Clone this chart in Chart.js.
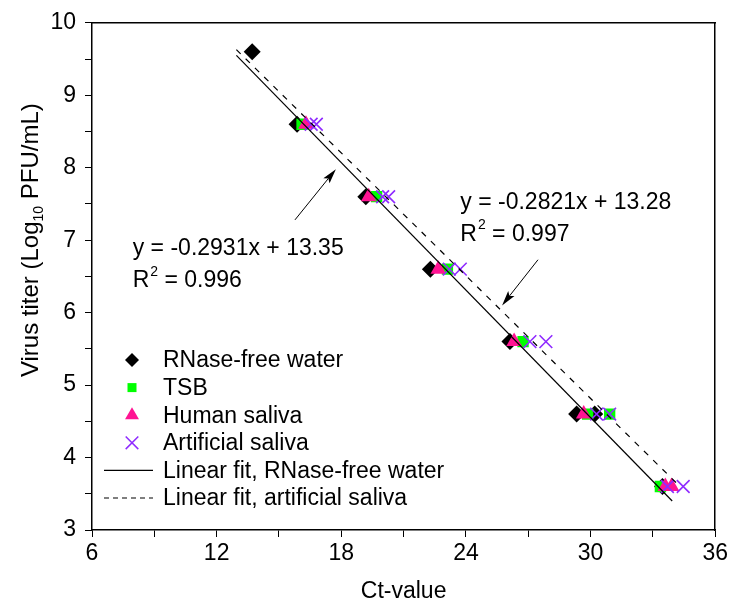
<!DOCTYPE html>
<html>
<head>
<meta charset="utf-8">
<script src="https://cdn.jsdelivr.net/npm/chart.js@4.4.0/dist/chart.umd.min.js"></script>
<style>
  html, body { margin: 0; padding: 0; background: #fff; }
  #wrap { width: 731px; height: 603px; }
</style>
</head>
<body>
<div id="wrap"><canvas id="ctChart" width="731" height="603"></canvas></div>
<script>
// values (Ct-value vs log10 titer)
const waterCt = [13.71, 15.87, 19.18, 22.29, 26.12, 29.33, 30.20, 33.46]
const waterTiter = [9.6, 8.6, 7.6, 6.6, 5.6, 4.6, 4.6, 3.6]
const tsbCt = [16.11, 19.70, 23.11, 26.75, 29.86, 30.92, 33.36]
const tsbTiter = [8.6, 7.6, 6.6, 5.6, 4.6, 4.6, 3.6]
const humanCt = [16.30, 19.32, 22.67, 26.32, 29.67, 33.60, 33.90]
const humanTiter = [8.6, 7.6, 6.6, 5.6, 4.6, 3.6, 3.6]
const artCt = [16.55, 16.80, 19.99, 20.28, 23.20, 23.73, 27.08, 27.85, 30.29, 30.92, 33.70, 34.46]
const artTiter = [8.6, 8.6, 7.6, 7.6, 6.6, 6.6, 5.6, 5.6, 4.6, 4.6, 3.6, 3.6]

// fitted lines, end points
const fitWaterCt = [12.95, 33.93]
const fitWaterTiter = [9.55, 3.40]
const fitArtCt = [12.95, 34.2]
const fitArtTiter = [9.63, 3.63]

const legendLabels = ["RNase-free water", "TSB", "Human saliva", "Artificial saliva",
    "Linear fit, RNase-free water", "Linear fit, artificial saliva"]
const eqWater = ["y = -0.2931x + 13.35", "0.996"]
const eqArt = ["y = -0.2821x + 13.28", "0.997"]

const FONT = "'Liberation Sans', Arial, sans-serif"
const toPts = (xs, ys) => xs.map((x, i) => ({x: x, y: ys[i]}))

const green = "#00ff00"
const pink = "#ff1493"
const purple = "#8f2bff"

const markerPath = (ctx, style, x, y, r) => {
    ctx.beginPath()
    if (style === "diamond") {
        ctx.moveTo(x, y - r); ctx.lineTo(x + r, y); ctx.lineTo(x, y + r); ctx.lineTo(x - r, y)
        ctx.closePath(); ctx.fill()
    } else if (style === "square") {
        ctx.rect(x - r * 0.75, y - r * 0.75, r * 1.5, r * 1.5); ctx.fill()
    } else if (style === "triangle") {
        ctx.moveTo(x, y - r); ctx.lineTo(x + r * 0.87, y + r * 0.5); ctx.lineTo(x - r * 0.87, y + r * 0.5)
        ctx.closePath(); ctx.fill()
    } else if (style === "cross") {
        const d = r * 0.7
        ctx.moveTo(x - d, y - d); ctx.lineTo(x + d, y + d)
        ctx.moveTo(x + d, y - d); ctx.lineTo(x - d, y + d)
        ctx.stroke()
    }
}

const arrow = (ctx, x1, y1, x2, y2) => {
    const ang = Math.atan2(y2 - y1, x2 - x1)
    const len = 15, w = 4
    ctx.beginPath()
    ctx.moveTo(x1, y1)
    ctx.lineTo(x2 - Math.cos(ang) * len * 0.8, y2 - Math.sin(ang) * len * 0.8)
    ctx.stroke()
    ctx.beginPath()
    ctx.moveTo(x2, y2)
    ctx.lineTo(x2 - Math.cos(ang) * len - Math.sin(ang) * w, y2 - Math.sin(ang) * len + Math.cos(ang) * w)
    ctx.lineTo(x2 - Math.cos(ang) * len * 0.8, y2 - Math.sin(ang) * len * 0.8)
    ctx.lineTo(x2 - Math.cos(ang) * len + Math.sin(ang) * w, y2 - Math.sin(ang) * len - Math.cos(ang) * w)
    ctx.closePath()
    ctx.fill()
}

const drawEq = (ctx, xs, ys, lines, left, top) => {
    const px = xs.getPixelForValue(left)
    const py1 = ys.getPixelForValue(top)
    ctx.font = "23px " + FONT
    ctx.textBaseline = "middle"
    ctx.textAlign = "left"
    ctx.fillText(lines[0], px, py1)
    const py2 = py1 + 32
    ctx.fillText("R", px, py2)
    const rw = ctx.measureText("R").width
    ctx.font = "14px " + FONT
    ctx.fillText("2", px + rw + 1, py2 - 9)
    const sw = ctx.measureText("2").width
    ctx.font = "23px " + FONT
    ctx.fillText(" = " + lines[1], px + rw + sw + 1, py2)
}

const extras = {
    id: "extras",
    afterDraw(chart) {
        const ctx = chart.ctx
        const xs = chart.scales.x
        const ys = chart.scales.y
        ctx.save()
        ctx.fillStyle = "#000"
        ctx.strokeStyle = "#000"

        // axis titles
        ctx.font = "23px " + FONT
        ctx.textAlign = "center"
        ctx.textBaseline = "middle"
        ctx.fillText("Ct-value", (chart.chartArea.left + chart.chartArea.right) / 2, 592)

        ctx.save()
        ctx.translate(31, ys.getPixelForValue(7.0))
        ctx.rotate(-Math.PI / 2)
        const p1 = "Virus titer (Log", p2 = "10", p3 = " PFU/mL)"
        ctx.font = "24px " + FONT
        const w1 = ctx.measureText(p1).width, w3 = ctx.measureText(p3).width
        ctx.font = "14px " + FONT
        const w2 = ctx.measureText(p2).width
        let sx = -(w1 + w2 + w3) / 2
        ctx.textAlign = "left"
        ctx.font = "24px " + FONT
        ctx.fillText(p1, sx, 0)
        ctx.font = "14px " + FONT
        ctx.fillText(p2, sx + w1, 8)
        ctx.font = "24px " + FONT
        ctx.fillText(p3, sx + w1 + w2, 0)
        ctx.restore()

        // equations + arrows
        drawEq(ctx, xs, ys, eqWater, 7.96, 6.88)
        drawEq(ctx, xs, ys, eqArt, 23.73, 7.52)
        ctx.lineWidth = 1
        arrow(ctx, xs.getPixelForValue(15.77), ys.getPixelForValue(7.28),
                xs.getPixelForValue(17.74), ys.getPixelForValue(7.98))
        arrow(ctx, xs.getPixelForValue(27.47), ys.getPixelForValue(6.73),
                xs.getPixelForValue(25.74), ys.getPixelForValue(6.10))

        // legend
        const styles = [
            {m: "diamond", c: "#000", r: 7},
            {m: "square", c: green, r: 6},
            {m: "triangle", c: pink, r: 8},
            {m: "cross", c: purple, r: 9},
            {line: []},
            {line: [5, 4]}
        ]
        ctx.font = "23px " + FONT
        ctx.textAlign = "left"
        ctx.textBaseline = "middle"
        styles.forEach((s, i) => {
            const y = 360 + i * 27.6
            if (s.line) {
                ctx.strokeStyle = "#000"
                ctx.lineWidth = 1.2
                ctx.setLineDash(s.line)
                ctx.beginPath(); ctx.moveTo(104, y); ctx.lineTo(153, y); ctx.stroke()
                ctx.setLineDash([])
            } else {
                ctx.fillStyle = s.c
                ctx.strokeStyle = s.c
                ctx.lineWidth = 1.5
                markerPath(ctx, s.m, 132, y, s.r)
            }
            ctx.fillStyle = "#000"
            ctx.fillText(legendLabels[i], 163, y + 1)
        })
        ctx.restore()
    }
}

new Chart("ctChart", {
    type: "scatter",
    data: {
        datasets: [
            {label: legendLabels[4], type: "line", data: toPts(fitWaterCt, fitWaterTiter), borderColor: "#000",
                borderWidth: 1.2, pointRadius: 0, fill: false, order: 0},
            {label: legendLabels[5], type: "line", data: toPts(fitArtCt, fitArtTiter), borderColor: "#000",
                borderWidth: 1.2, borderDash: [6, 7], pointRadius: 0, fill: false, order: 0},
            {label: legendLabels[3], data: toPts(artCt, artTiter), pointStyle: "crossRot", pointRadius: 9,
                borderColor: purple, borderWidth: 1.6, order: 1},
            {label: legendLabels[2], data: toPts(humanCt, humanTiter), pointStyle: "triangle", pointRadius: 9,
                backgroundColor: pink, borderColor: pink, borderWidth: 0, order: 2},
            {label: legendLabels[1], data: toPts(tsbCt, tsbTiter), pointStyle: "rect", pointRadius: 8,
                backgroundColor: green, borderColor: green, borderWidth: 0, order: 3},
            {label: legendLabels[0], data: toPts(waterCt, waterTiter), pointStyle: "rectRot", pointRadius: 8.5,
                backgroundColor: "#000", borderColor: "#000", borderWidth: 0, order: 4}
        ]
    },
    options: {
        responsive: false,
        animation: false,
        devicePixelRatio: 1,
        layout: {padding: {top: 20, right: 13, left: 0, bottom: 0}},
        plugins: {legend: {display: false}, tooltip: {enabled: false}},
        scales: {
            x: {
                type: "linear", min: 6, max: 36,
                afterFit: (s) => { s.height = 73 },
                ticks: {stepSize: 3, autoSkip: false, padding: 3, color: "#000",
                    font: {family: FONT, size: 23},
                    callback: (v) => v % 6 === 0 ? v : ""},
                grid: {drawOnChartArea: false, tickLength: 7, color: "#000", tickColor: "#000"},
                border: {color: "#000", width: 1.5}
            },
            y: {
                type: "linear", min: 3, max: 10,
                afterFit: (s) => { s.width = 92 },
                ticks: {stepSize: 0.5, autoSkip: false, padding: 9, color: "#000",
                    font: {family: FONT, size: 23},
                    callback: (v) => Number.isInteger(v) ? v : ""},
                grid: {drawOnChartArea: false, tickLength: 7, color: "#000", tickColor: "#000"},
                border: {color: "#000", width: 1.5}
            },
            x2: {
                type: "linear", position: "top", min: 6, max: 36,
                afterFit: (s) => { s.height = 0 },
                ticks: {display: false},
                grid: {display: false},
                border: {color: "#000", width: 1.5}
            },
            y2: {
                type: "linear", position: "right", min: 3, max: 10,
                afterFit: (s) => { s.width = 0 },
                ticks: {display: false},
                grid: {display: false},
                border: {color: "#000", width: 1.5}
            }
        }
    },
    plugins: [extras]
});
</script>
</body>
</html>
